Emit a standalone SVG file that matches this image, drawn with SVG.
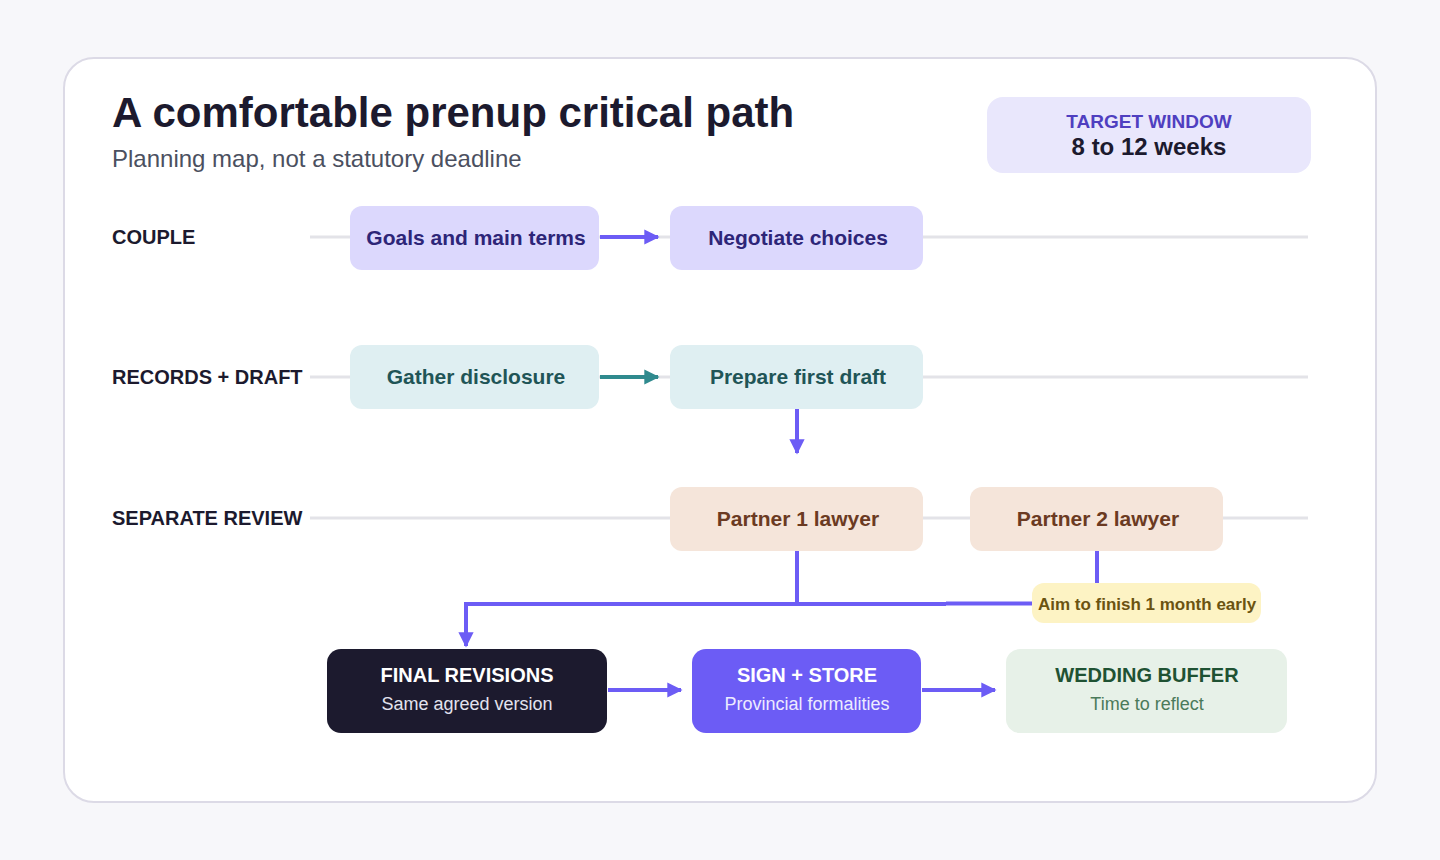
<svg xmlns="http://www.w3.org/2000/svg" width="1440" height="860" viewBox="0 0 1440 860">
<defs>
<marker id="ap" viewBox="0 0 10 10" refX="9" refY="5" markerWidth="3.8" markerHeight="5" orient="auto" markerUnits="strokeWidth"><path d="M0,0 L10,5 L0,10 z" fill="#6c5cf5"/></marker>
<marker id="at" viewBox="0 0 10 10" refX="9" refY="5" markerWidth="3.8" markerHeight="5" orient="auto" markerUnits="strokeWidth"><path d="M0,0 L10,5 L0,10 z" fill="#2f8a8e"/></marker>
<style>
text{font-family:"Liberation Sans",Arial,sans-serif}
.lane{font-size:20px;font-weight:700;fill:#1c1a2e}
.lline{stroke:#e3e3e8;stroke-width:3;fill:none}
.nt{font-size:21px;font-weight:700;text-anchor:middle}
.c{stroke:#6c5cf5;stroke-width:4;fill:none}
.ct{stroke:#2f8a8e;stroke-width:4;fill:none}
.bt{font-size:20px;font-weight:700;text-anchor:middle}
.bs{font-size:18px;text-anchor:middle}
</style>
</defs>
<rect width="1440" height="860" fill="#f7f7fa"/>
<rect x="64" y="58" width="1312" height="744" rx="30" fill="#ffffff" stroke="#dcdae6" stroke-width="2"/>
<text x="112" y="127" font-size="42" font-weight="700" fill="#1c1a2e">A comfortable prenup critical path</text>
<text x="112" y="167" font-size="24" fill="#4b5060">Planning map, not a statutory deadline</text>
<g id="target">
<rect x="987" y="97" width="324" height="76" rx="16" fill="#e9e7fc"/>
<text x="1149" y="128" font-size="19" font-weight="700" fill="#4f3fc0" text-anchor="middle">TARGET WINDOW</text>
<text x="1149" y="155" font-size="24" font-weight="700" fill="#1c1a2e" text-anchor="middle">8 to 12 weeks</text>
</g>
<g id="lanes">
<text class="lane" x="112" y="244">COUPLE</text>
<text class="lane" x="112" y="384">RECORDS + DRAFT</text>
<text class="lane" x="112" y="525">SEPARATE REVIEW</text>
<line class="lline" x1="310" y1="237" x2="1308" y2="237"/>
<line class="lline" x1="310" y1="377" x2="1308" y2="377"/>
<line class="lline" x1="310" y1="518" x2="1308" y2="518"/>
</g>
<g id="connectors">
<path class="c" d="M600,237 H658" marker-end="url(#ap)"/>
<path class="ct" d="M600,377 H658" marker-end="url(#at)"/>
<path class="c" d="M797,409 V453" marker-end="url(#ap)"/>
<path class="c" d="M797,551 V604 H466 V646" marker-end="url(#ap)"/>
<path class="c" d="M797,604 H946"/>
<path class="c" d="M946,603.5 H1034"/>
<path class="c" d="M1097,551 V584"/>
<path class="c" d="M608,690 H681" marker-end="url(#ap)"/>
<path class="c" d="M922,690 H995" marker-end="url(#ap)"/>
</g>
<g id="goals"><rect x="350" y="206" width="249" height="64" rx="12" fill="#dcd8fd"/><text class="nt" x="476" y="245" fill="#2d2578">Goals and main terms</text></g>
<g id="negotiate"><rect x="670" y="206" width="253" height="64" rx="12" fill="#dcd8fd"/><text class="nt" x="798" y="245" fill="#2d2578">Negotiate choices</text></g>
<g id="gather"><rect x="350" y="345" width="249" height="64" rx="12" fill="#dfeff2"/><text class="nt" x="476" y="384" fill="#1f5557">Gather disclosure</text></g>
<g id="draft"><rect x="670" y="345" width="253" height="64" rx="12" fill="#dfeff2"/><text class="nt" x="798" y="384" fill="#1f5557">Prepare first draft</text></g>
<g id="partner1"><rect x="670" y="487" width="253" height="64" rx="12" fill="#f5e5da"/><text class="nt" x="798" y="526" fill="#6b3a22">Partner 1 lawyer</text></g>
<g id="partner2"><rect x="970" y="487" width="253" height="64" rx="12" fill="#f5e5da"/><text class="nt" x="1098" y="526" fill="#6b3a22">Partner 2 lawyer</text></g>
<g id="note"><rect x="1032" y="583" width="229" height="40" rx="12" fill="#fdf3c4"/><text x="1147" y="610" font-size="17" font-weight="700" fill="#6b5311" text-anchor="middle">Aim to finish 1 month early</text></g>
<g id="final"><rect x="327" y="649" width="280" height="84" rx="14" fill="#1c1a2e"/><text class="bt" x="467" y="682" fill="#ffffff">FINAL REVISIONS</text><text class="bs" x="467" y="710" fill="#e3e3ee">Same agreed version</text></g>
<g id="sign"><rect x="692" y="649" width="229" height="84" rx="14" fill="#6c5cf5"/><text class="bt" x="807" y="682" fill="#ffffff">SIGN + STORE</text><text class="bs" x="807" y="710" fill="#ecebff">Provincial formalities</text></g>
<g id="buffer"><rect x="1006" y="649" width="281" height="84" rx="14" fill="#e7f1e8"/><text class="bt" x="1147" y="682" fill="#1f5233">WEDDING BUFFER</text><text class="bs" x="1147" y="710" fill="#4b7a5a">Time to reflect</text></g>
</svg>
